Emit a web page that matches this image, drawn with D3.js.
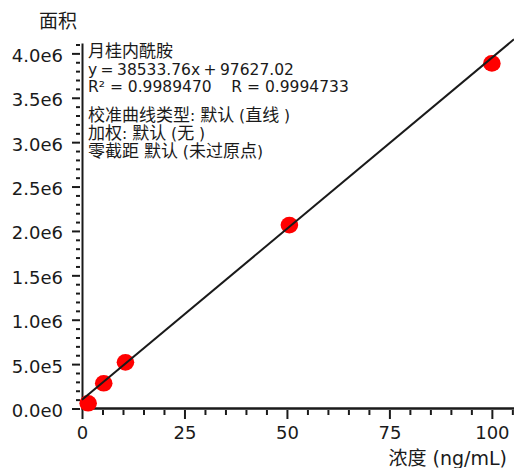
<!DOCTYPE html>
<html>
<head>
<meta charset="utf-8">
<script src="https://cdn.jsdelivr.net/npm/d3@7"></script>
<style>
  html, body { margin: 0; padding: 0; background: #fff; }
  svg { display: block; }
</style>
</head>
<body>
<svg id="chart" width="514" height="468"></svg>
<script>
// ---- data ----
const concentrations = [1.5, 5.3, 10.6, 50.6, 100];
const areas = [59000, 284000, 520000, 2066000, 3887000];
const slope = 38533.76;
const intercept = 97627.02;
const xTickValues = [0, 25, 50, 75, 100];
const yTickValues = [0, 5e5, 1e6, 1.5e6, 2e6, 2.5e6, 3e6, 3.5e6, 4e6];
const yTickLabels = ["0.0e0", "5.0e5", "1.0e6", "1.5e6", "2.0e6", "2.5e6", "3.0e6", "3.5e6", "4.0e6"];
const legendTitle = ["月桂内酰胺", "y = 38533.76x + 97627.02", "R² = 0.9989470    R = 0.9994733"];
const legendInfo = ["校准曲线类型: 默认 (直线 )", "加权: 默认 (无 )", "零截距 默认 (未过原点)"];
const yTitle = "面积";
const xTitle = "浓度 (ng/mL)";

// ---- layout ----
const svg = d3.select("#chart");
const textColor = "#1a1a1a";
const x = d3.scaleLinear().domain([0, 105.4]).range([82, 514]);
const y = d3.scaleLinear().domain([0, 4.1e6]).range([408.5, 44.5]);

const xMinor = d3.range(0, 106, 5).filter(v => v % 25 !== 0);
const yMinor = d3.range(0, 4.15e6, 1e5).filter(v => Math.round(v / 1e5) % 5 !== 0);

// minor y ticks
svg.append("g").attr("transform", "translate(80,0)")
  .call(d3.axisLeft(y).tickValues(yMinor).tickSize(4).tickFormat(""))
  .call(g => g.select(".domain").remove())
  .call(g => g.selectAll("line").attr("stroke", textColor).attr("stroke-width", 2));

// major y ticks
svg.append("g").attr("transform", "translate(80,0)")
  .call(d3.axisLeft(y).tickValues(yTickValues).tickSize(8).tickPadding(9)
    .tickFormat((d, i) => yTickLabels[i]))
  .call(g => g.select(".domain").remove())
  .call(g => g.selectAll("line").attr("stroke", textColor).attr("stroke-width", 2))
  .call(g => g.selectAll("text").attr("fill", textColor).attr("dy", "0.44em")
    .style("font-family", "DejaVu Sans").style("font-size", "18px"));

// minor x ticks
svg.append("g").attr("transform", "translate(0,410)")
  .call(d3.axisBottom(x).tickValues(xMinor).tickSize(5).tickFormat(""))
  .call(g => g.select(".domain").remove())
  .call(g => g.selectAll("line").attr("stroke", textColor).attr("stroke-width", 2));

// major x ticks
svg.append("g").attr("transform", "translate(0,410)")
  .call(d3.axisBottom(x).tickValues(xTickValues).tickSize(9).tickPadding(7).tickFormat(d3.format("d")))
  .call(g => g.select(".domain").remove())
  .call(g => g.selectAll("line").attr("stroke", textColor).attr("stroke-width", 2))
  .call(g => g.selectAll("text").attr("fill", textColor)
    .style("font-family", "DejaVu Sans").style("font-size", "18px"));

// axis lines
svg.append("line").attr("x1", x(0) + 0.5).attr("x2", x(0) + 0.5)
  .attr("y1", y(4.1e6) - 1).attr("y2", y(0) + 1.5)
  .attr("stroke", textColor).attr("stroke-width", 2);
svg.append("line").attr("x1", x(0) - 0.5).attr("x2", 514)
  .attr("y1", y(0)).attr("y2", y(0))
  .attr("stroke", textColor).attr("stroke-width", 2.5);

// points
const xd = x.domain();
svg.append("g").selectAll("ellipse")
  .data(concentrations.map((c, i) => [c, areas[i]]))
  .join("ellipse")
  .attr("cx", d => x(d[0])).attr("cy", d => y(d[1]))
  .attr("rx", 8.8).attr("ry", 8.3)
  .attr("fill", "#ff0000");

// regression line over points
svg.append("line")
  .attr("x1", x(xd[0])).attr("y1", y(slope * xd[0] + intercept))
  .attr("x2", x(xd[1])).attr("y2", y(slope * xd[1] + intercept))
  .attr("stroke", textColor).attr("stroke-width", 2);

// legend text block: one text element, one tspan per line;
// Latin runs at 15.5px, CJK runs (falling back to Noto Sans CJK) slightly larger
const cjkRe = /([\u3000-\u9fff\uff00-\uffef]+)/;
function addBlock(lines, y0, step, spacingFor) {
  const txt = svg.append("text").attr("fill", textColor)
    .attr("xml:space", "preserve").style("white-space", "pre")
    .style("font-family", "'DejaVu Sans', 'Noto Sans CJK SC', sans-serif");
  lines.forEach((t, i) => {
    const line = txt.append("tspan").attr("x", 88).attr("y", y0 + i * step);
    const ws = spacingFor ? spacingFor(i) : null;
    t.split(cjkRe).filter(s => s.length).forEach(s => {
      const isCjk = cjkRe.test(s);
      const ts = line.append("tspan")
        .style("font-size", isCjk ? "17px" : "15.5px")
        .text(s);
      if (ws) ts.style("word-spacing", ws);
    });
  });
}
addBlock(legendTitle, 57, 17.6, i => (i === 1 ? "-1.5px" : null));
addBlock(legendInfo, 120.5, 18.2, null);

// axis titles
svg.append("text").attr("x", 58).attr("y", 27.5).attr("text-anchor", "middle")
  .attr("fill", textColor)
  .style("font-family", "'DejaVu Sans', 'Noto Sans CJK SC', sans-serif").style("font-size", "19px")
  .text(yTitle);
svg.append("text").attr("x", 507).attr("y", 465).attr("text-anchor", "end")
  .attr("fill", textColor)
  .style("font-family", "'DejaVu Sans', 'Noto Sans CJK SC', sans-serif").style("font-size", "19px")
  .text(xTitle);
</script>
</body>
</html>
